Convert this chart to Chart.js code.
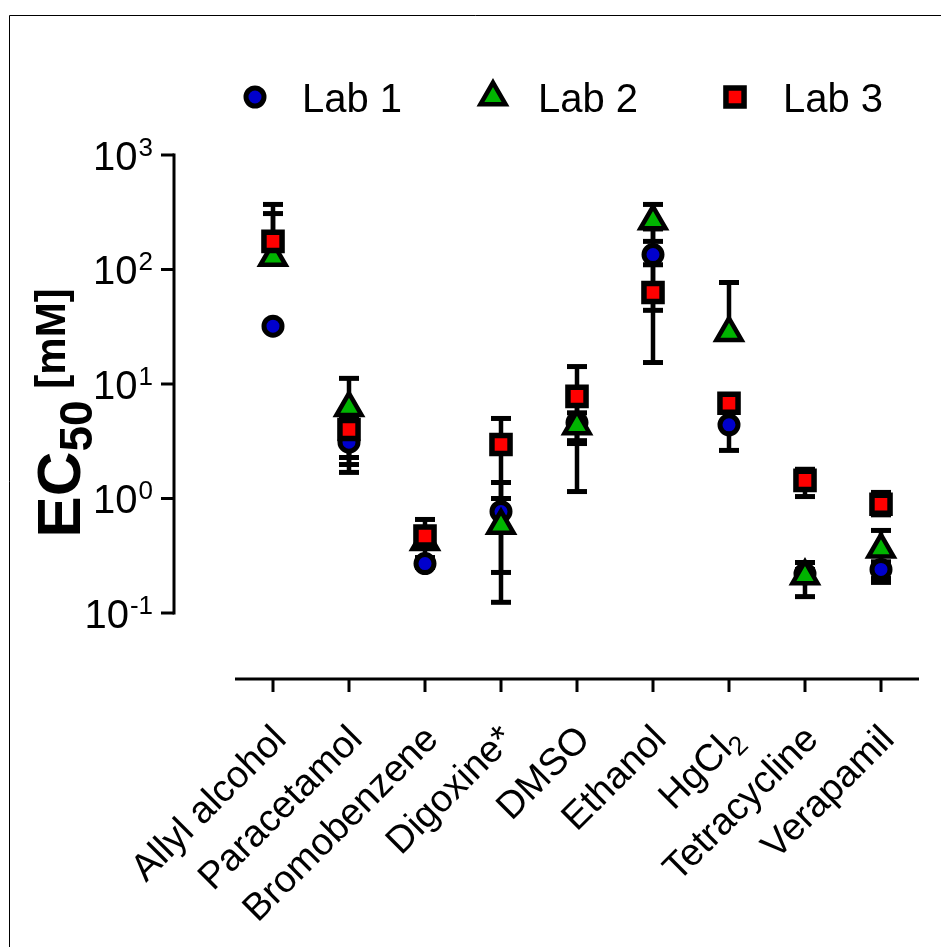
<!DOCTYPE html>
<html><head><meta charset="utf-8">
<script src="https://cdn.jsdelivr.net/npm/chart.js@4.4.0/dist/chart.umd.min.js"></script>
<style>html,body{margin:0;padding:0;background:#fff;}canvas{display:block;}</style>
</head><body>
<canvas id="c" width="941" height="947"></canvas>
<script>
const categories = ['Allyl alcohol','Paracetamol','Bromobenzene','Digoxine*','DMSO','Ethanol','HgCl₂','Tetracycline','Verapamil'];
const seriesNames = ['Lab 1','Lab 2','Lab 3'];
const lab1Values = [32, 3.1, 0.27, 0.77, 4.6, 135, 4.4, 0.22, 0.24];
const lab1Low    = [null, 2.28, 0.25, 0.226, 3.2, 44, 2.63, 0.2, 0.2];
const lab1High   = [null, 4.0, 0.29, 1.38, 6.6, 226, 6.2, 0.24, 0.28];
const lab2Values = [127, 6.2, 0.42, 0.58, 4.3, 265, 28, 0.21, 0.36];
const lab2Low    = [null, 1.69, 0.305, 0.124, 3.02, 176, null, 0.139, 0.185];
const lab2High   = [308, 11.2, 0.55, 1.0, 5.6, 370, 77, 0.276, 0.526];
const lab3Values = [176, 4.0, 0.47, 2.96, 7.8, 63, 6.8, 1.44, 0.89];
const lab3Low    = [null, 1.98, 0.40, 1.0, 1.15, 15.4, 5.8, 1.04, 0.72];
const lab3High   = [370, 5.0, 0.656, 5.0, 14.2, 110, 7.9, 1.8, 1.13];
const yTickExponents = [3, 2, 1, 0, -1];

const FONT = "'Liberation Sans', Arial, sans-serif";
const markerStyles = [
  {style:'circle', r:9, bw:5, fill:'#0000CC'},
  {style:'triangle', r:14.5, bw:4.5, fill:'#00B400'},
  {style:'rect', r:12.8, bw:5.5, fill:'#FF0000'}
];
const errSets = [
  {vals: lab1Values, lo: lab1Low, hi: lab1High},
  {vals: lab2Values, lo: lab2Low, hi: lab2High},
  {vals: lab3Values, lo: lab3Low, hi: lab3High}
];

function drawMarker(ctx, m, x, y){
  ctx.save();
  ctx.fillStyle = m.fill; ctx.strokeStyle = '#000'; ctx.lineWidth = m.bw; ctx.lineJoin='miter';
  ctx.beginPath();
  if (m.style === 'circle') { ctx.arc(x, y, m.r, 0, Math.PI*2); }
  else if (m.style === 'rect') { const s = Math.SQRT1_2*m.r; ctx.rect(x-s, y-s, 2*s, 2*s); }
  else { const r=m.r; ctx.moveTo(x, y-r); ctx.lineTo(x+r*Math.sin(2*Math.PI/3), y+r/2); ctx.lineTo(x-r*Math.sin(2*Math.PI/3), y+r/2); ctx.closePath(); }
  ctx.fill(); ctx.stroke();
  ctx.restore();
}

function richParts(label){
  const parts = [];
  for (const ch of label) {
    if (ch === '₂') parts.push({t:'2', sub:true});
    else {
      const last = parts[parts.length-1];
      if (last && !last.sub) last.t += ch; else parts.push({t:ch, sub:false});
    }
  }
  return parts;
}

const decor = {
  id: 'decor',
  beforeDatasetsDraw(chart){
    const {ctx, scales:{x, y}} = chart;
    ctx.save(); ctx.strokeStyle = '#000'; ctx.lineCap = 'butt';
    errSets.forEach(s => {
      s.vals.forEach((v, j) => {
        const px = x.getPixelForValue(j), py = y.getPixelForValue(v);
        [s.lo[j], s.hi[j]].forEach(b => {
          if (b == null) return;
          const pb = y.getPixelForValue(b);
          ctx.lineWidth = 4.5; ctx.beginPath(); ctx.moveTo(px, py); ctx.lineTo(px, pb); ctx.stroke();
          ctx.lineWidth = 5; ctx.beginPath(); ctx.moveTo(px-10, pb); ctx.lineTo(px+10, pb); ctx.stroke();
        });
      });
    });
    ctx.restore();
  },
  afterDraw(chart){
    const {ctx, chartArea:ca, scales:{x, y}} = chart;
    ctx.save();
    // frame
    ctx.strokeStyle = '#000'; ctx.lineWidth = 1;
    ctx.beginPath(); ctx.moveTo(9.5, 947); ctx.lineTo(9.5, 15.5); ctx.lineTo(941, 15.5); ctx.stroke();
    // y axis
    const yTop = y.getPixelForValue(Math.pow(10, yTickExponents[0]));
    const yBot = y.getPixelForValue(Math.pow(10, yTickExponents[yTickExponents.length-1]));
    const axX = 174;
    ctx.lineWidth = 3; ctx.lineCap = 'square';
    ctx.beginPath(); ctx.moveTo(axX, yTop); ctx.lineTo(axX, yBot); ctx.stroke();
    ctx.lineCap = 'butt';
    ctx.fillStyle = '#000';
    yTickExponents.forEach(e => {
      const py = y.getPixelForValue(Math.pow(10, e));
      ctx.beginPath(); ctx.moveTo(axX, py); ctx.lineTo(161, py); ctx.stroke();
      const sup = String(e);
      ctx.font = '26px ' + FONT; ctx.textBaseline = 'alphabetic'; ctx.textAlign = 'right';
      const ws = ctx.measureText(sup).width;
      ctx.fillText(sup, 153, py + 1);
      ctx.font = '40px ' + FONT;
      ctx.fillText('10', 153 - ws - 1, py + 15);
    });
    // x axis
    ctx.lineWidth = 3;
    ctx.beginPath(); ctx.moveTo(ca.left, ca.bottom); ctx.lineTo(ca.right, ca.bottom); ctx.stroke();
    const XF = 38, XSF = 27;
    categories.forEach((c, j) => {
      const px = x.getPixelForValue(j);
      ctx.beginPath(); ctx.moveTo(px, ca.bottom); ctx.lineTo(px, ca.bottom + 13); ctx.stroke();
      const parts = richParts(c);
      let total = 0;
      parts.forEach(p => { ctx.font = (p.sub ? XSF : XF) + 'px ' + FONT; p.w = ctx.measureText(p.t).width; total += p.w; });
      ctx.save();
      ctx.translate(px + 15, ca.bottom + 62);
      ctx.rotate(-Math.PI/4);
      ctx.textAlign = 'left'; ctx.textBaseline = 'alphabetic';
      let cx = -total;
      parts.forEach(p => { ctx.font = (p.sub ? XSF : XF) + 'px ' + FONT; ctx.fillText(p.t, cx, p.sub ? 8 : 0); cx += p.w; });
      ctx.restore();
    });
    // y title
    ctx.save();
    ctx.translate(80, 413);
    ctx.rotate(-Math.PI/2);
    const tparts = [{t:'EC', f:'bold 62px ', dy:0}, {t:'50', f:'bold 46px ', dy:12}, {t:' [mM]', f:'bold 42px ', dy:-15}];
    let tw = 0;
    tparts.forEach(p => { ctx.font = p.f + FONT; p.w = ctx.measureText(p.t).width; tw += p.w; });
    let tx = -tw/2;
    ctx.textAlign = 'left'; ctx.textBaseline = 'alphabetic';
    tparts.forEach(p => { ctx.font = p.f + FONT; ctx.fillText(p.t, tx, p.dy); tx += p.w; });
    ctx.restore();
    // legend
    const legX = [255, 493, 735];
    const legTextX = [302, 538, 783];
    seriesNames.forEach((n, i) => {
      drawMarker(ctx, markerStyles[i], legX[i], 97);
      ctx.font = '40px ' + FONT; ctx.textAlign = 'left'; ctx.textBaseline = 'alphabetic'; ctx.fillStyle = '#000';
      ctx.fillText(n, legTextX[i], 112);
    });
    ctx.restore();
  }
};

const chart = new Chart(document.getElementById('c'), {
  type: 'line',
  data: {
    labels: categories,
    datasets: [lab1Values, lab2Values, lab3Values].map((vals, i) => ({
      label: seriesNames[i],
      data: vals,
      showLine: false,
      clip: false,
      pointStyle: markerStyles[i].style,
      pointRadius: markerStyles[i].r,
      pointBorderWidth: markerStyles[i].bw,
      pointBackgroundColor: markerStyles[i].fill,
      pointBorderColor: '#000',
      pointHoverRadius: markerStyles[i].r,
      order: 2 - i
    }))
  },
  options: {
    responsive: false, animation: false, devicePixelRatio: 1, events: [],
    layout: {padding: {left: 235, right: 22, top: 155, bottom: 268}},
    plugins: {legend: {display: false}, tooltip: {enabled: false}},
    scales: {
      x: {type: 'category', display: false, offset: true},
      y: {type: 'logarithmic', display: false, min: 0.02652, max: 1000}
    }
  },
  plugins: [decor]
});
</script>
</body></html>
